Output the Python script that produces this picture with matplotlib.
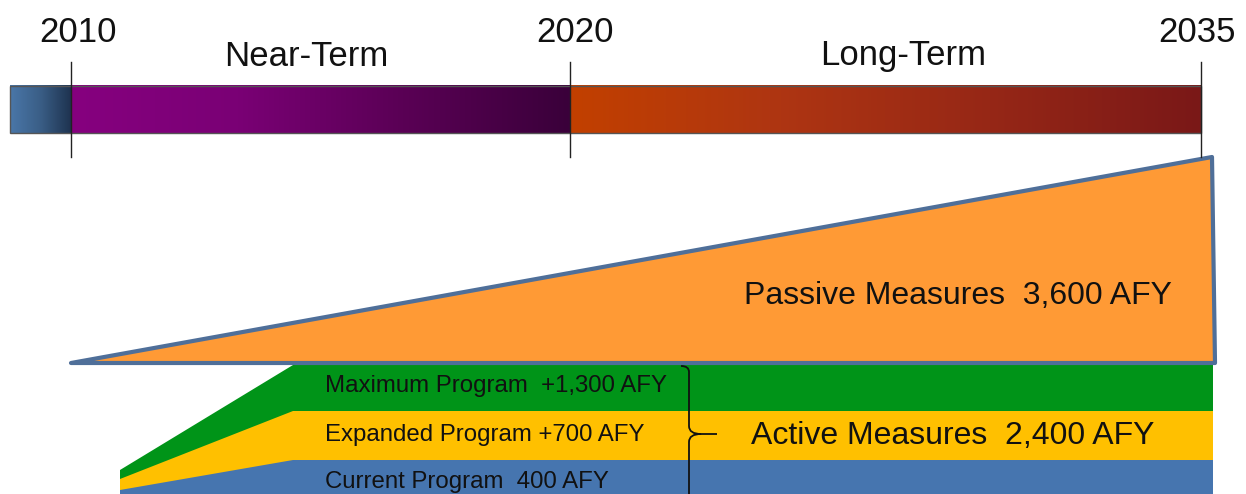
import numpy as np
import matplotlib
matplotlib.use("Agg")
import matplotlib.pyplot as plt
from matplotlib.colors import LinearSegmentedColormap
from matplotlib.patches import Polygon, Rectangle
from matplotlib.path import Path
from matplotlib.patches import PathPatch

plt.rcParams['font.family'] = ['Liberation Sans', 'DejaVu Sans']

# ---- data ----
years = ["2010", "2020", "2035"]
phases = ["Near-Term", "Long-Term"]
passive_afy = 3600
active_afy = 2400
program_names = ["Maximum Program", "Expanded Program", "Current Program"]
program_afy_labels = ["+1,300 AFY", "+700 AFY", "400 AFY"]
program_seps = ["  ", " ", "  "]

# ---- layout (pixel space) ----
W, H = 1246, 494
fig = plt.figure(figsize=(W / 100, H / 100), dpi=100)
ax = fig.add_axes([0, 0, 1, 1])
ax.set_xlim(0, W)
ax.set_ylim(H, 0)
ax.axis('off')

year_x = [71, 570, 1201]
bar_left, bar_top, bar_bot = 10, 86, 133


def grad(x0, x1, colors):
    cmap = LinearSegmentedColormap.from_list('g', colors)
    ax.imshow(np.linspace(0, 1, 256).reshape(1, -1), cmap=cmap, aspect='auto',
              extent=(x0, x1, bar_bot, bar_top), zorder=2, interpolation='bilinear')


grad(bar_left, year_x[0], ["#4A77A9", "#3A5E86", "#1E3350"])
grad(year_x[0], year_x[1], ["#86007F", "#7A0075", "#5A0055", "#3A003A"])
grad(year_x[1], year_x[2], ["#C24000", "#AE3512", "#962716", "#7A1818"])
ax.add_patch(Rectangle((bar_left, bar_top), year_x[2] - bar_left, bar_bot - bar_top,
                       fill=False, ec="#555555", lw=1.0, zorder=3))

for x in year_x:
    ax.plot([x, x], [62, 157], color="#222222", lw=1.0, zorder=4)

year_label_x = [78, 575, 1197]
for x, t in zip(year_label_x, years):
    ax.text(x, 32, t, fontsize=25, ha='center', va='center', color='#111111')
phase_x = [306, 903]
for x, t in zip(phase_x, phases):
    ax.text(x, 56, t, fontsize=25, ha='center', va='center', color='#111111')

# Passive measures wedge
ax.add_patch(Polygon([(71, 363), (1212, 157), (1215, 363)], closed=True,
                     fc="#FF9A35", ec="#4F6F99", lw=3, joinstyle='round', zorder=3))
ax.text(958, 296, f"Passive Measures  {passive_afy:,} AFY", fontsize=23,
        ha='center', va='center', color='#111111', zorder=5)

# Active measures bands
right = 1213
kx = 293
green = "#009418"
yellow = "#FFC000"
blue = "#4675AF"
ax.add_patch(Polygon([(120, 470), (kx, 365), (right, 365), (right, 494), (120, 494)],
                     closed=True, fc=green, ec='none', zorder=2))
ax.add_patch(Polygon([(120, 479), (kx, 411), (right, 411), (right, 494), (120, 494)],
                     closed=True, fc=yellow, ec='none', zorder=2))
ax.add_patch(Polygon([(120, 490), (kx, 460), (right, 460), (right, 494), (120, 494)],
                     closed=True, fc=blue, ec='none', zorder=2))

band_y = [386, 435, 482]
for y, n, s, v in zip(band_y, program_names, program_seps, program_afy_labels):
    ax.text(325, y, f"{n}{s}{v}", fontsize=17.3, ha='left', va='center',
            color='#111111', zorder=5)

# brace
verts = [(681, 366), (689, 366), (689, 372), (689, 426), (689, 434), (701, 434),
         (717, 434), (701, 434), (689, 434), (689, 442), (689, 494)]
codes = [Path.MOVETO, Path.CURVE3, Path.CURVE3, Path.LINETO, Path.CURVE3, Path.CURVE3,
         Path.LINETO, Path.MOVETO, Path.CURVE3, Path.CURVE3, Path.LINETO]
ax.add_patch(PathPatch(Path(verts, codes), fill=False, ec='#111111', lw=1.3, zorder=5))

ax.text(953, 436, f"Active Measures  {active_afy:,} AFY", fontsize=23,
        ha='center', va='center', color='#111111', zorder=5)

fig.savefig("out.png", dpi=100)
